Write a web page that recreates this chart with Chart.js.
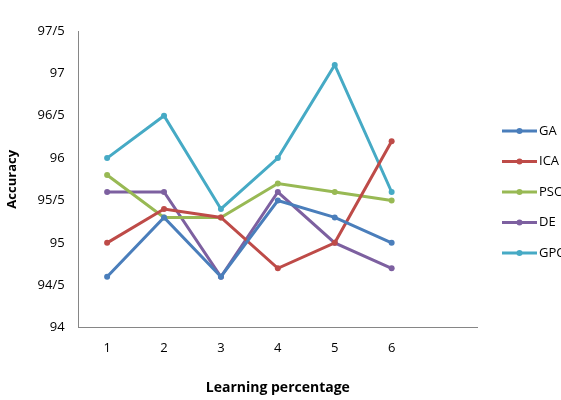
<!DOCTYPE html>
<html>
<head>
<meta charset="utf-8">
<script src="https://cdn.jsdelivr.net/npm/chart.js@4"></script>
<style>
  html, body { margin: 0; padding: 0; background: #fff; }
  #wrap { width: 561px; height: 400px; }
</style>
</head>
<body>
<div id="wrap"><canvas id="c" width="561" height="400"></canvas></div>
<script>
const labels = ['1', '2', '3', '4', '5', '6', ''];
const seriesNames = ['GA', 'ICA', 'PSO', 'DE', 'GPC'];
const GA  = [94.6, 95.3, 94.6, 95.5, 95.3, 95.0];
const ICA = [95.0, 95.4, 95.3, 94.7, 95.0, 96.2];
const PSO = [95.8, 95.3, 95.3, 95.7, 95.6, 95.5];
const DE  = [95.6, 95.6, 94.6, 95.6, 95.0, 94.7];
const GPC = [96.0, 96.5, 95.4, 96.0, 97.1, 95.6];
const COLORS = ['#4a7ebb', '#be4b48', '#98b954', '#7d60a0', '#46aac5'];

const values = [GA, ICA, PSO, DE, GPC];

// legend drawn at fixed spot so long labels run off the right edge like the original
const sideLegend = {
  id: 'sideLegend',
  afterDraw(chart) {
    const ctx = chart.ctx;
    ctx.save();
    ctx.font = '13px "Open Sans", sans-serif';
    ctx.textBaseline = 'middle';
    seriesNames.forEach((name, i) => {
      const y = 131 + i * 30.5;
      ctx.strokeStyle = COLORS[i];
      ctx.fillStyle = COLORS[i];
      ctx.lineWidth = 3;
      ctx.beginPath(); ctx.moveTo(502, y); ctx.lineTo(537, y); ctx.stroke();
      ctx.beginPath(); ctx.arc(519.5, y, 3, 0, Math.PI * 2); ctx.fill();
      ctx.fillStyle = '#000';
      ctx.fillText(name, 539, y);
    });
    ctx.restore();
  }
};

new Chart(document.getElementById('c'), {
  type: 'line',
  data: {
    labels,
    datasets: values.map((v, i) => ({
      label: seriesNames[i],
      data: v,
      borderColor: COLORS[i],
      backgroundColor: COLORS[i],
      borderWidth: 3,
      pointRadius: 3,
      pointBorderWidth: 0,
      fill: false,
      tension: 0,
    })),
  },
  options: {
    responsive: false,
    animation: false,
    layout: { padding: { left: 0, right: 84, top: 31, bottom: 0 } },
    plugins: { legend: { display: false }, tooltip: { enabled: false } },
    scales: {
      x: {
        offset: true,
        grid: { display: false, drawTicks: false, offset: true },
        border: { color: '#868686' },
        ticks: { color: '#000', font: { size: 13, family: '"Open Sans", sans-serif' }, padding: 13 },
        title: { display: true, text: 'Learning percentage', color: '#000', padding: { top: 10 },
                 font: { size: 14, weight: 'bold', family: '"Open Sans", sans-serif' } },
      },
      y: {
        min: 94, max: 97.5,
        grid: { display: false, drawTicks: false },
        border: { color: '#868686' },
        ticks: { stepSize: 0.5, color: '#000', padding: 14,
                 font: { size: 13, family: '"Open Sans", sans-serif' },
                 callback: v => String(v).replace('.', '/') },
        title: { display: true, text: 'Accuracy', color: '#000',
                 font: { size: 13, weight: 'bold', family: '"Open Sans", sans-serif' } },
      },
    },
  },
  plugins: [sideLegend],
});
</script>
</body>
</html>
